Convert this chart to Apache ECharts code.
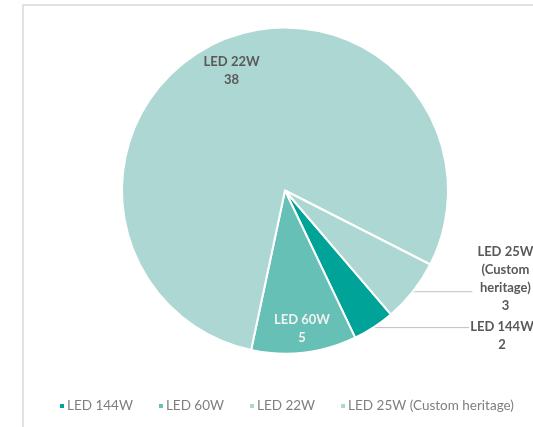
<!DOCTYPE html>
<html>
<head>
<meta charset="utf-8">
<script src="https://cdn.jsdelivr.net/npm/echarts@6/dist/echarts.min.js"></script>
<style>
html,body{margin:0;padding:0;background:#fff;}
#chart{width:533px;height:427px;}
</style>
</head>
<body>
<div id="chart"></div>
<script>
const categories = ['LED 144W', 'LED 60W', 'LED 22W', 'LED 25W (Custom heritage)'];
const labelLines = [['LED 144W', '2'], ['LED 60W', '5'], ['LED 22W', '38'], ['LED 25W', '(Custom', 'heritage)', '3']];
const values = [2, 5, 38, 3];
const colors = ['#00A397', '#66C0B6', '#ACD7D2', '#ACD7D2'];

const labelFont = 'Lato, "Noto Sans", sans-serif';

function richLabel(idx) {
  return labelLines[idx].map(function (t) { return '{a|' + t + '}'; }).join('\n');
}

const itemOpts = [
  { label: { position: 'outside', padding: [17, 0, 0, 0], distanceToLabelLine: 2 }, labelLine: { show: true, length: 0.5, length2: 95 } },
  { label: { position: 'inside', color: '#F2F2F2', rich: { a: { color: '#F2F2F2' } } }, labelLine: { show: false } },
  { label: { position: 'inside' }, labelLine: { show: false } },
  { label: { position: 'outside', padding: [0, 0, 25, 0], distanceToLabelLine: 2 }, labelLine: { show: true, length: 0.5, length2: 59 } }
];
const insideShift = { 1: { dx: 7, dy: 54 }, 2: { dx: -17, dy: -43 } };

const data = categories.map(function (c, i) {
  return Object.assign({ name: c, value: values[i], itemStyle: { color: colors[i] } }, itemOpts[i]);
});

const chart = echarts.init(document.getElementById('chart'), null, { renderer: 'canvas' });
chart.setOption({
  animation: false,
  backgroundColor: '#ffffff',
  graphic: [{
    type: 'rect', silent: true,
    shape: { x: 23, y: 5, width: 600, height: 500 },
    style: { fill: 'none', stroke: '#D9D9D9', lineWidth: 1.5 }
  }],
  legend: {
    data: categories,
    bottom: 9,
    left: 53,
    icon: 'rect',
    itemWidth: 6,
    itemHeight: 6,
    itemGap: 24,
    textStyle: { color: '#7F7F7F', fontSize: 13.5, fontFamily: labelFont, padding: [0, 0, 0, -3] }
  },
  series: [{
    type: 'pie',
    center: [285, 190.5],
    radius: 163,
    startAngle: -49.5,
    clockwise: true,
    avoidLabelOverlap: false,
    itemStyle: { borderColor: '#ffffff', borderWidth: 2 },
    label: {
      show: true,
      formatter: function (p) { return richLabel(p.dataIndex); },
      color: '#595959',
      fontFamily: labelFont,
      fontWeight: 'bold',
      fontSize: 13,
      lineHeight: 18,
      rich: { a: { width: 62, align: 'center', fontFamily: labelFont, fontWeight: 'bold', fontSize: 13, lineHeight: 18 } }
    },
    labelLine: { lineStyle: { color: '#BFBFBF', width: 1 }, smooth: false },
    labelLayout: function (p) {
      const s = insideShift[p.dataIndex];
      return s ? { dx: s.dx, dy: s.dy } : {};
    },
    data: data
  }]
});
</script>
</body>
</html>
